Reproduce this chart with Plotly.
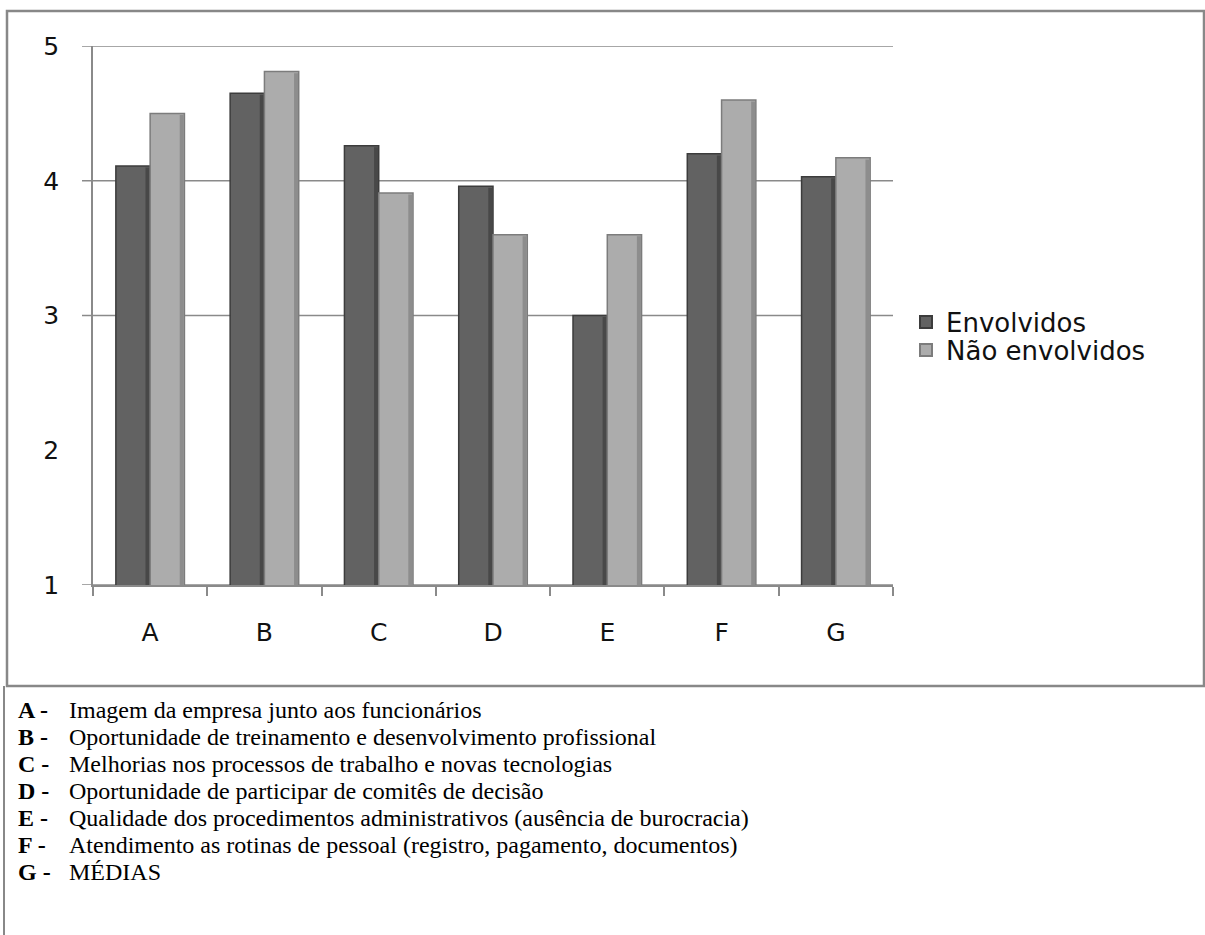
import plotly.graph_objects as go

categories = ["A", "B", "C", "D", "E", "F", "G"]
envolvidos = [4.11, 4.65, 4.26, 3.96, 3.00, 4.20, 4.03]
nao_envolvidos = [4.50, 4.81, 3.91, 3.60, 3.60, 4.60, 4.17]
y_ticks = [1, 2, 3, 4, 5]
grid_values = [1, 3, 4, 5]

descricoes = [
    ("A -", "Imagem da empresa junto aos funcionários"),
    ("B -", "Oportunidade de treinamento e desenvolvimento profissional"),
    ("C -", "Melhorias nos processos de trabalho e novas tecnologias"),
    ("D -", "Oportunidade de participar de comitês de decisão"),
    ("E -", "Qualidade dos procedimentos administrativos (ausência de burocracia)"),
    ("F -", "Atendimento as rotinas de pessoal (registro, pagamento, documentos)"),
    ("G -", "MÉDIAS"),
]

W, H = 1205, 935
px_x = lambda p: p / W
px_y = lambda p: (H - p) / H

CHART_FONT = "DejaVu Sans"
SERIF = "Liberation Serif"

BAR_W = 0.3      # width of one bar, in category units
EDGE_W = 0.035   # shaded right-hand edge of each bar

fig = go.Figure()
series = [
    ("Envolvidos", envolvidos, -BAR_W, "#626262", "#3c3c3c", "#484848", "legend"),
    ("Não envolvidos", nao_envolvidos, 0.0, "#acacac", "#7c7c7c", "#8d8d8d", "legend2"),
]
for name, vals, off, body, line, edge, leg in series:
    fig.add_trace(go.Bar(
        name=name, x=categories, y=vals, base=0, legend=leg, showlegend=True,
        offset=off, width=BAR_W,
        marker=dict(color=body, line=dict(color=line, width=1.5)),
    ))
    # darker bevel on the right side of each bar
    fig.add_trace(go.Bar(
        x=categories, y=[v - 0.012 for v in vals], base=0, showlegend=False,
        offset=off + BAR_W - EDGE_W - 0.006, width=EDGE_W, hoverinfo="skip",
        marker=dict(color=edge, line=dict(width=0)),
    ))

shapes = []
# horizontal gridlines with their outer tick marks
for v in grid_values:
    shapes.append(dict(type="line", xref="paper", yref="y",
                       x0=px_x(82), x1=px_x(893), y0=v, y1=v,
                       line=dict(color="#8a8a8a", width=1.5), layer="below"))
# outer chart border
shapes.append(dict(type="rect", xref="paper", yref="paper",
                   x0=px_x(7), x1=px_x(1204), y0=px_y(686), y1=px_y(11),
                   line=dict(color="#888888", width=2.5), fillcolor="rgba(0,0,0,0)"))
shapes.append(dict(type="line", xref="paper", yref="paper",
                   x0=px_x(4), x1=px_x(4), y0=px_y(686), y1=0,
                   line=dict(color="#888888", width=2)))

annotations = []
for i, (pref, txt) in enumerate(descricoes):
    yy = px_y(710 + 27 * i)
    annotations.append(dict(xref="paper", yref="paper", x=px_x(16), y=yy,
                            xanchor="left", yanchor="middle", showarrow=False,
                            text=f"<b>{pref}</b>",
                            font=dict(family=SERIF, size=24, color="#000")))
    annotations.append(dict(xref="paper", yref="paper", x=px_x(67), y=yy,
                            xanchor="left", yanchor="middle", showarrow=False,
                            text=txt,
                            font=dict(family=SERIF, size=24, color="#000")))

legend_style = dict(xanchor="left", yanchor="middle", bgcolor="rgba(0,0,0,0)",
                    font=dict(family=CHART_FONT, size=26, color="#111"),
                    itemsizing="constant")

fig.update_layout(
    template="none",
    width=W, height=H, autosize=False, showlegend=True,
    margin=dict(l=0, r=0, t=0, b=0, pad=0),
    paper_bgcolor="white", plot_bgcolor="white",
    barmode="overlay",
    font=dict(family=CHART_FONT, size=25, color="#111"),
    xaxis=dict(domain=[px_x(93), px_x(893)], showgrid=False, automargin=False,
               showline=True, linecolor="#8a8a8a", linewidth=1.5,
               ticks="outside", tickson="boundaries", ticklen=9,
               tickcolor="#8a8a8a", tickwidth=1.5,
               ticklabelstandoff=24, tickfont=dict(size=25)),
    yaxis=dict(domain=[px_y(585), px_y(46)], range=[1, 5], automargin=False,
               tickvals=y_ticks, showgrid=False, zeroline=False,
               showline=True, linecolor="#8a8a8a", linewidth=1.5,
               ticks="", ticklabelstandoff=27, tickfont=dict(size=25)),
    legend=dict(x=px_x(906), y=px_y(322), **legend_style),
    legend2=dict(x=px_x(906), y=px_y(350), **legend_style),
    shapes=shapes, annotations=annotations,
)

fig.write_html("out.html")
